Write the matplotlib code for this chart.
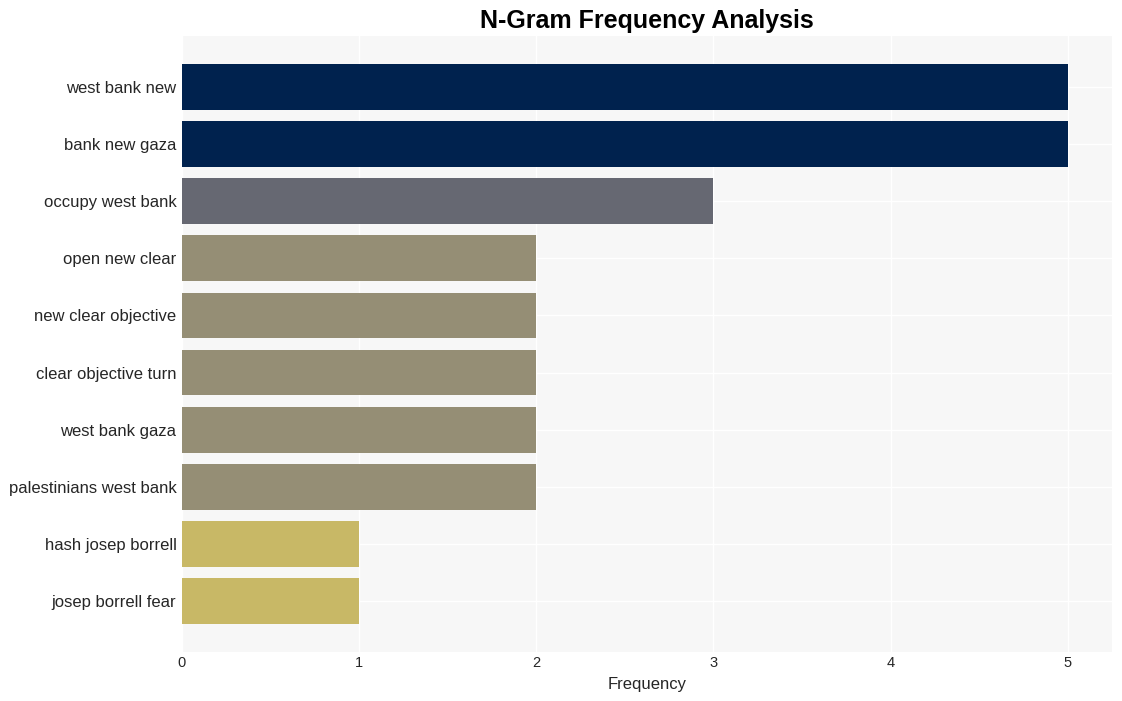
import matplotlib
matplotlib.use("Agg")
import matplotlib.pyplot as plt

ngrams = ["west bank new", "bank new gaza", "occupy west bank", "open new clear",
          "new clear objective", "clear objective turn", "west bank gaza",
          "palestinians west bank", "hash josep borrell", "josep borrell fear"]
counts = [5, 5, 3, 2, 2, 2, 2, 2, 1, 1]
bar_colors = {5: "#00224e", 3: "#666872", 2: "#958e75", 1: "#c8b866"}

plt.rcParams['font.family'] = ['Liberation Sans', 'DejaVu Sans']

fig = plt.figure(figsize=(11.22, 7.01), dpi=100)
ax = fig.add_axes([0.1622, 0.0699, 0.8289, 0.8787])
ax.set_facecolor("#f7f7f7")

ypos = list(range(len(ngrams)))
ax.barh(ypos, counts, height=0.8, color=[bar_colors[c] for c in counts], zorder=2)
ax.set_yticks(ypos)
ax.set_yticklabels(ngrams, fontsize=12, color="#262626")
ax.invert_yaxis()
ax.set_xlim(0, 5.25)
ax.set_xticks(range(6))
ax.tick_params(axis='x', labelsize=10.5, colors="#262626", length=0, pad=3)
ax.tick_params(axis='y', length=0, pad=4)
ax.grid(True, color="white", linewidth=1, zorder=0)
for s in ax.spines.values():
    s.set_visible(False)

ax.set_xlabel("Frequency", fontsize=12, color="#262626", labelpad=5)
ax.set_title("N-Gram Frequency Analysis", fontsize=18, fontweight='bold', pad=6)

fig.savefig("out.png", dpi=100)
